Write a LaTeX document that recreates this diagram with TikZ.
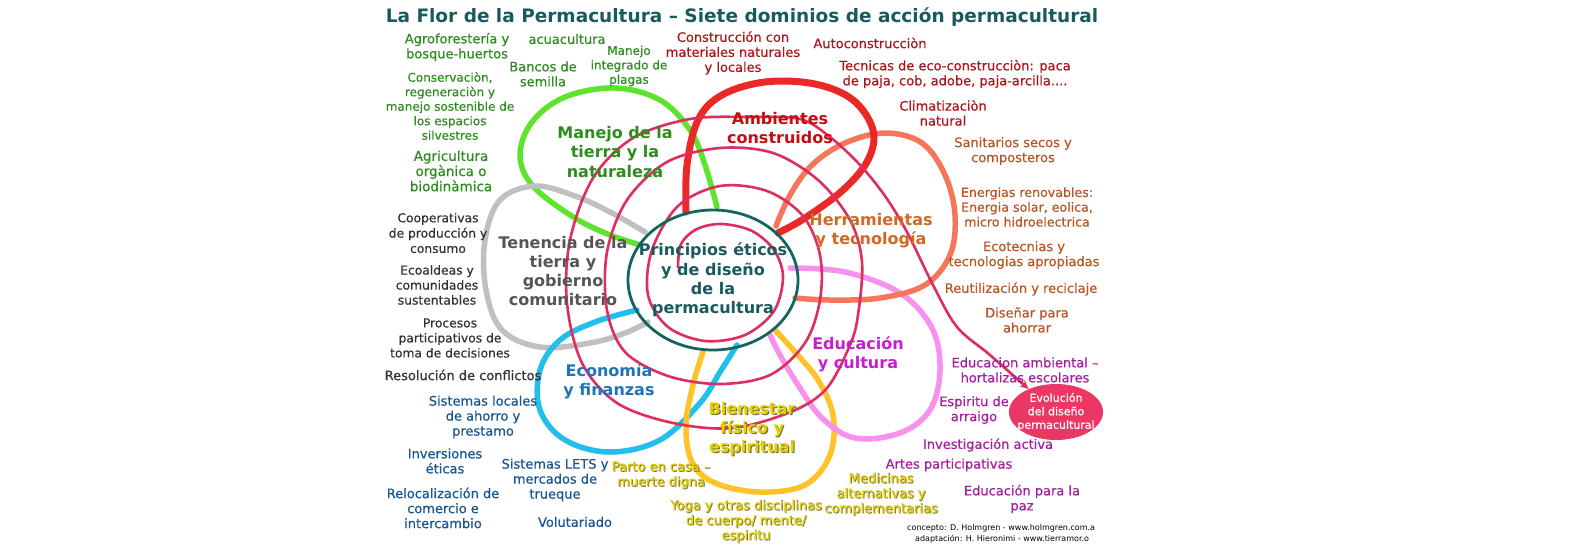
\documentclass[tikz,border=0pt]{standalone}
\usepackage{fontspec}
\setmainfont{DejaVu Sans}
\newfontfamily\regf{DejaVu Sans}[FakeBold=0.45]
\usetikzlibrary{shapes.geometric,arrows.meta}
\definecolor{tgreen}{RGB}{45,140,30}
\definecolor{lgreen}{RGB}{95,228,45}
\definecolor{tdark}{RGB}{50,50,50}
\definecolor{tgray}{RGB}{85,85,85}
\definecolor{lgray}{RGB}{192,192,192}
\definecolor{tblue}{RGB}{25,85,145}
\definecolor{dblue}{RGB}{30,115,185}
\definecolor{lcyan}{RGB}{35,190,235}
\definecolor{tyellow}{RGB}{228,208,0}
\definecolor{lyellow}{RGB}{255,195,40}
\definecolor{tpurple}{RGB}{165,30,160}
\definecolor{dmagenta}{RGB}{200,30,210}
\definecolor{lpink}{RGB}{248,145,238}
\definecolor{torange}{RGB}{185,85,35}
\definecolor{dorange}{RGB}{210,105,35}
\definecolor{lsalmon}{RGB}{245,118,90}
\definecolor{tred}{RGB}{175,20,25}
\definecolor{dred}{RGB}{195,15,20}
\definecolor{lred}{RGB}{235,40,40}
\definecolor{tteal}{RGB}{25,90,95}
\definecolor{cteal}{RGB}{20,100,95}
\definecolor{spir}{RGB}{222,45,95}
\definecolor{evofill}{RGB}{235,55,100}
\definecolor{yshadow}{RGB}{120,110,60}
\begin{document}
\begin{tikzpicture}[x=1pt,y=-1pt,
  small/.style={align=center,inner sep=0pt,font=\regf\fontsize{13}{15}\selectfont},
  smaller/.style={align=center,inner sep=0pt,font=\regf\fontsize{12}{14.5}\selectfont},
  dom/.style={align=center,inner sep=0pt,font=\fontsize{16}{19.2}\selectfont\bfseries},
  petal/.style={line width=5.5pt,line cap=round,line join=round},
  spiralline/.style={draw=spir,line width=2.6pt,line cap=round},
  credit/.style={anchor=west,inner sep=0pt,font=\fontsize{8}{10}\selectfont,text=black}]
\path[use as bounding box,fill=white] (0,0) rectangle (1585,549);

% petals
\draw[petal,lgreen] plot[smooth,tension=0.6] coordinates {(717,207) (705,165) (690,130) (660,100) (615,88) (565,97) (532,122) (520,155) (532,185) (570,215) (605,233) (640,245)};
\draw[petal,lgray] plot[smooth,tension=0.6] coordinates {(645,232) (610,212) (575,196) (535,186) (500,200) (485,240) (486,290) (502,330) (540,347) (590,343) (625,333) (648,322)};
\draw[petal,lcyan] plot[smooth,tension=0.6] coordinates {(637,310) (595,322) (560,340) (540,370) (540,410) (565,440) (610,452) (660,440) (700,403) (720,372) (737,345)};
\draw[petal,lyellow] plot[smooth,tension=0.6] coordinates {(703,352) (693,385) (686,425) (692,462) (715,483) (760,492) (805,485) (830,455) (833,415) (818,380) (795,352) (775,330)};
\draw[petal,lpink] plot[smooth,tension=0.6] coordinates {(790,268) (845,272) (900,293) (932,328) (940,370) (930,410) (900,433) (855,438) (822,418) (798,385) (780,355) (770,335)};
\draw[petal,lsalmon] plot[smooth,tension=0.6] coordinates {(776,226) (790,195) (812,165) (845,143) (885,133) (922,143) (945,175) (955,215) (950,255) (925,285) (880,298) (830,300) (795,298)};
\draw[petal,lred,line width=7pt] plot[smooth,tension=0.6] coordinates {(686,212) (687,165) (698,120) (722,95) (765,82) (815,84) (853,100) (873,130) (868,160) (843,190) (805,218) (778,233)};

% evolution node
\node[ellipse,fill=evofill,minimum width=94pt,minimum height=56pt,inner sep=0pt] (evo) at (1056,412) {};
\coordinate (spc) at (678,267);

% spiral
\draw[spiralline,-{Stealth[length=9pt,width=8pt]}] plot[smooth,tension=0.55] coordinates {(spc) (681,244) (697,229) (722,224) (752,231) (774,250) (783,277) (774,311) (745,335) (705,341) (668,327) (648,295) (652,250) (678,206) (720,186) (767,191) (803,216) (820,255) (820,300) (805,343) (770,375) (720,384) (668,376) (625,352) (607,310) (607,252) (627,200) (667,162) (720,148) (773,153) (818,180) (850,220) (862,262) (858,315) (850,345) (827,388) (793,411) (733,428) (673,423) (617,403) (582,363) (567,303) (570,240) (593,178) (633,138) (690,119) (750,117) (800,119) (830,137) (860,165) (885,196) (907,232) (933,285) (957,327) (990,355) (evo.140)};

% center
\node[ellipse,draw=cteal,line width=2.8pt,minimum width=170pt,minimum height=140pt,inner sep=0pt] (center) at (713,280) {};

% title
\node[inner sep=0pt,font=\fontsize{18.5}{22}\selectfont\bfseries,text=tteal] (title) at (742,17) {La Flor de la Permacultura – Siete dominios de acción permacultural};

% domain labels
\node[dom,text=tgreen] (dmanejo) at (615,152) {Manejo de la\\tierra y la\\naturaleza};
\node[dom,text=dred] (dambi) at (780,128) {Ambientes\\construidos};
\node[dom,text=dorange] (dherr) at (871,231) {Herramientas\\y tecnología};
\node[dom,text=tgray] (dten) at (563,271) {Tenencia de la\\tierra y\\gobierno\\comunitario};
\node[dom,text=tteal] (dprin) at (713,280) {Principios éticos\\y de diseño\\de la\\permacultura};
\node[dom,text=dmagenta] (deduc) at (858,354) {Educación\\y cultura};
\node[dom,text=dblue] (decon) at (609,381) {Economía\\y finanzas};
\node[dom,text=yshadow] (dbien-s) at (753.2,430.2) {Bienestar\\físico y\\espiritual};
\node[dom,text=tyellow] (dbien) at (752,429) {Bienestar\\físico y\\espiritual};

% green
\node[small,text=tgreen] (agro) at (457,47) {Agroforestería y\\bosque-huertos};
\node[small,text=tgreen] (acua) at (567,39) {acuacultura};
\node[smaller,text=tgreen] (mip) at (629,66) {Manejo\\integrado de\\plagas};
\node[small,text=tgreen] (bancos) at (543,74) {Bancos de\\semilla};
\node[smaller,text=tgreen] (conserv) at (450,106) {Conservaciòn,\\regeneraciòn y\\manejo sostenible de\\los espacios\\silvestres};
\node[small,text=tgreen,font=\regf\fontsize{13.5}{15.2}\selectfont] (agric) at (451,171) {Agricultura\\orgànica o\\biodinàmica};

% dark
\node[smaller,text=tdark,font=\regf\fontsize{12.3}{15.3}\selectfont] (coop) at (438,233) {Cooperativas\\de producción y\\consumo};
\node[smaller,text=tdark,font=\regf\fontsize{12.3}{15}\selectfont] (ecoal) at (437,285) {Ecoaldeas y\\comunidades\\sustentables};
\node[smaller,text=tdark,font=\regf\fontsize{12.3}{15}\selectfont] (proces) at (450,338) {Procesos\\participativos de\\toma de decisiones};
\node[small,text=tdark] (resol) at (463,375) {Resolución de conflictos};

% blue
\node[small,text=tblue] (sisloc) at (483,417) {Sistemas locales\\de ahorro y\\prestamo};
\node[small,text=tblue] (invers) at (445,461) {Inversiones\\éticas};
\node[small,text=tblue] (reloc) at (443,508) {Relocalización de\\comercio e\\intercambio};
\node[small,text=tblue] (lets) at (555,480) {Sistemas LETS y\\mercados de\\trueque};
\node[small,text=tblue] (volut) at (575,522) {Volutariado};

% yellow
\node[small,text=yshadow] (parto-s) at (661.8,475.8) {Parto en casa –\\muerte digna};
\node[small,text=tyellow] (parto) at (661,475) {Parto en casa –\\muerte digna};
\node[small,text=yshadow] (yoga-s) at (746.8,521.8) {Yoga y otras disciplinas\\de cuerpo/ mente/\\espiritu};
\node[small,text=tyellow] (yoga) at (746,521) {Yoga y otras disciplinas\\de cuerpo/ mente/\\espiritu};
\node[small,text=yshadow] (medic-s) at (881.8,494.8) {Medicinas\\alternativas y\\complementarias};
\node[small,text=tyellow] (medic) at (881,494) {Medicinas\\alternativas y\\complementarias};

% purple
\node[small,text=tpurple] (eduamb) at (1025,370) {Educacion ambiental –\\hortalizas escolares};
\node[small,text=tpurple] (espir) at (974,410) {Espiritu de\\arraigo};
\node[small,text=tpurple] (invest) at (988,445) {Investigación activa};
\node[small,text=tpurple] (artes) at (949,465) {Artes participativas};
\node[small,text=tpurple] (edupaz) at (1022,499) {Educación para la\\paz};

% orange
\node[small,text=torange] (sanit) at (1013,151) {Sanitarios secos y\\composteros};
\node[smaller,text=torange,font=\regf\fontsize{12.6}{14.8}\selectfont] (energ) at (1027,207) {Energias renovables:\\Energia solar, eolica,\\micro hidroelectrica};
\node[small,text=torange] (ecotec) at (1024,255) {Ecotecnias y\\tecnologias apropiadas};
\node[small,text=torange] (reutil) at (1021,289) {Reutilización y reciclaje};
\node[small,text=torange] (disen) at (1027,320) {Diseñar para\\ahorrar};

% red
\node[small,text=tred] (constr) at (733,53) {Construcción con\\materiales naturales\\y locales};
\node[small,text=tred] (autoc) at (870,43) {Autoconstrucciòn};
\node[small,text=tred] (tecn) at (955,74) {Tecnicas de eco-construcciòn: paca\\de paja, cob, adobe, paja-arcilla....};
\node[small,text=tred] (clima) at (943,113) {Climatizaciòn\\natural};

% evolution text
\node[align=center,inner sep=0pt,text=white,font=\regf\fontsize{11}{13.5}\selectfont] (evotext) at (evo) {Evolución\\del diseño\\permacultural};

% credits
\node[credit] (cred1) at (907,528) {concepto: D. Holmgren - www.holmgren.com.a};
\node[credit] (cred2) at (915,539) {adaptación: H. Hieronimi - www.tierramor.o};
\end{tikzpicture}
\end{document}
